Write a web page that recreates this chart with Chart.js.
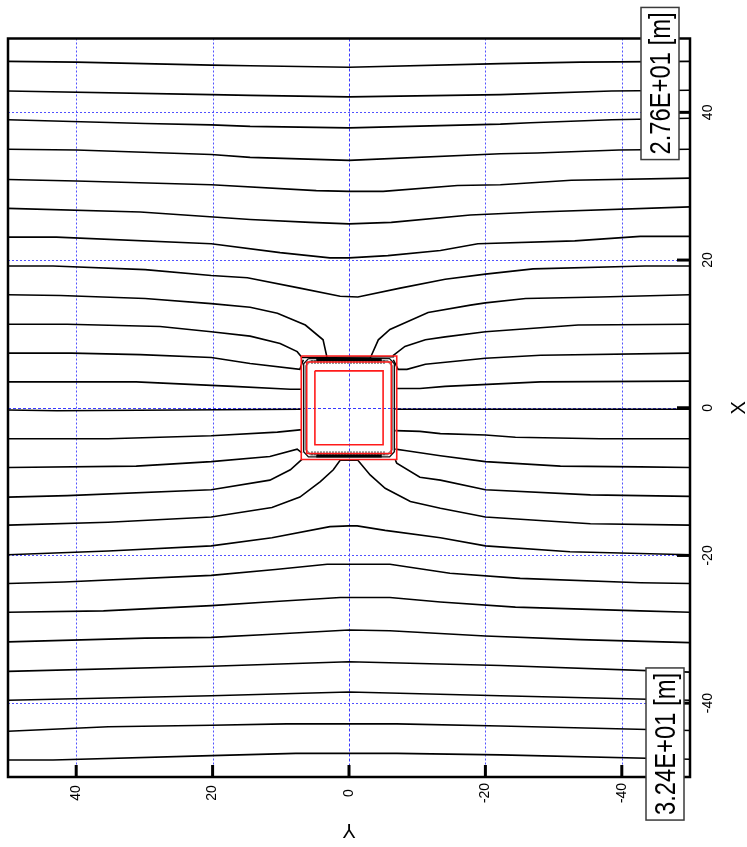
<!DOCTYPE html>
<html>
<head>
<meta charset="utf-8">
<script src="https://cdn.jsdelivr.net/npm/chart.js@4.4.1/dist/chart.umd.min.js"></script>
<style>
  html, body { margin: 0; padding: 0; background: #fff; }
  canvas { display: block; }
</style>
</head>
<body>
<canvas id="plot" width="747" height="847"></canvas>
<script>
// Axis ticks (Y runs along the bottom, X along the right side)
const yTicks = [40, 20, 0, -20, -40];
const xTicks = [40, 20, 0, -20, -40];
const topLabel = '2.76E+01 [m]';
const bottomLabel = '3.24E+01 [m]';

// Contour lines, each point as [Y, X]
const c01 = [[50,46.9],[40,46.8],[20.2,46.4],[14.5,46.3],[0,46.1],[-22.2,46.6],[-33.9,46.8],[-50,46.9]];
const c02 = [[50,42.9],[20.2,42.4],[14.5,42.3],[0,42.1],[-22.2,42.4],[-38.5,42.9],[-50,43.0]];
const c03 = [[50,39.0],[29.9,38.5],[20.2,38.3],[14.5,38.1],[0,37.9],[-22.2,38.4],[-26.6,38.6],[-38.5,39.0],[-50,39.2]];
const c04 = [[50,35.0],[40,34.9],[20.2,34.3],[14.5,33.9],[0,33.5],[-22.2,34.4],[-27.6,34.5],[-39.6,34.9],[-50,35.0]];
const c05 = [[50,30.9],[40,30.7],[20.2,30.2],[4.8,29.4],[0,29.3],[-5,29.3],[-15.9,30.1],[-22.2,30.2],[-32.6,30.8],[-50,31.1]];
const c06 = [[50,27.0],[30.6,26.5],[14.5,25.5],[5.7,25.1],[0,24.9],[-6.2,25.1],[-17.8,26.1],[-27.6,26.5],[-50,27.2]];
const c07 = [[50,23.1],[42.9,23.1],[20.2,22.2],[10.1,21.0],[2.8,20.3],[0,20.3],[-5.7,20.6],[-13.4,21.3],[-18.9,22.2],[-33.1,22.6],[-42.7,23.2],[-50,23.2]];
const c08 = [[50,19.2],[43.4,19.2],[29.9,18.7],[20.2,17.9],[14.9,17.6],[7.2,16.2],[1.3,15.1],[-1.3,15.0],[-7.5,16.2],[-14.1,17.4],[-20,18.1],[-27.0,18.8],[-43.4,19.2],[-50,19.2]];
const c09 = [[50,15.3],[42.3,15.2],[29.9,14.8],[20.2,14.1],[14.5,13.6],[10.5,12.8],[6.4,11.2],[3.8,9.2],[3.2,6.7],[-3.1,6.7],[-4.3,9.2],[-6.0,10.6],[-11.6,12.9],[-17.8,13.9],[-20,14.2],[-25.9,14.8],[-36.8,15.0],[-50,15.3]];
const c10 = [[50,11.3],[41.3,11.3],[27.7,11.0],[20.2,10.3],[14.5,9.7],[10.1,8.7],[7.6,7.6],[6.9,6.8],[-6.5,6.9],[-6.5,7.1],[-8.2,8.3],[-11.2,9.2],[-14.1,9.6],[-20,10.3],[-33.6,11.2],[-50,11.3]];
const c11 = [[50,7.4],[40.7,7.4],[30.6,7.2],[20.2,6.8],[14.5,6.0],[7.2,5.2],[6.7,6.5]];
const c11b = [[-6.5,6.5],[-7.2,5.2],[-8.5,5.2],[-11.2,5.9],[-14.5,6.2],[-20,6.7],[-28.1,7.1],[-50,7.4]];
const c12 = [[50,3.5],[31.2,3.5],[17.0,2.9],[8.6,2.5],[6.9,2.5]];
const c12b = [[-6.9,2.6],[-10.4,2.6],[-14.1,2.9],[-28.1,3.5],[-50,3.6]];
const c13 = [[50,-0.3],[42.8,-0.4],[7.2,-0.2],[6.9,-0.2]];
const c13b = [[-6.8,-0.2],[-50,-0.2]];
const c14 = [[50,-4.2],[35.3,-4.2],[20.2,-3.8],[10.5,-3.3],[7.2,-3.0],[6.9,-3.0]];
const c14b = [[-6.8,-3.1],[-10.4,-3.2],[-13.4,-3.5],[-20,-3.7],[-24.4,-4.0],[-36.8,-4.2],[-50,-4.2]];
const c15 = [[50,-8.1],[31.2,-7.9],[20.2,-7.3],[11.6,-6.6],[7.6,-5.6],[6.9,-6.1]];
const c15b = [[-6.8,-5.6],[-8.2,-5.8],[-13.4,-6.5],[-20,-7.3],[-31.0,-7.9],[-42.7,-8.0],[-50,-8.1]];
const c16 = [[50,-12.1],[41.3,-11.9],[20.2,-11.1],[11.6,-9.8],[8.6,-8.4],[6.9,-7.0]];
const c16b = [[-6.8,-7.1],[-7.0,-7.5],[-10.4,-9.4],[-13.4,-9.8],[-20,-11.1],[-35.4,-11.8],[-50,-12.0]];
const c17 = [[50,-15.9],[35.3,-15.5],[20.2,-14.8],[11.3,-13.5],[7.2,-12.1],[4.2,-10.0],[2.3,-8.4],[1.3,-7.1],[-1.3,-7.1],[-3.1,-9.1],[-5.3,-10.9],[-9.0,-12.7],[-13.4,-13.6],[-20,-14.8],[-35.4,-15.7],[-50,-15.9]];
const c18 = [[50,-19.9],[35.3,-19.4],[20.2,-18.7],[11.3,-17.6],[2.8,-16.1],[0,-16.0],[-1.2,-16.0],[-5.3,-16.6],[-13.4,-17.6],[-20,-18.7],[-32.4,-19.5],[-50,-19.9]];
const c19 = [[50,-23.8],[41.8,-23.6],[20.2,-22.7],[10.8,-21.9],[3.2,-21.2],[0,-21.2],[-6.0,-21.2],[-14.8,-22.4],[-25.1,-23.1],[-42.7,-23.7],[-50,-23.8]];
const c20 = [[50,-27.7],[36.0,-27.5],[20.2,-26.8],[12.0,-26.3],[1.3,-25.7],[-6.0,-25.7],[-13.4,-26.3],[-24.4,-27.0],[-42.7,-27.5],[-50,-27.7]];
const c21 = [[50,-31.7],[29.9,-31.2],[20.2,-31.1],[12.0,-30.7],[0,-30.1],[-6.0,-30.2],[-20,-30.9],[-33.9,-31.4],[-50,-31.8]];
const c22 = [[50,-35.7],[20.2,-35.0],[0,-34.4],[-22.2,-34.9],[-50,-35.8]];
const c23 = [[50,-39.6],[20.2,-39.0],[0,-38.5],[-22.2,-39.0],[-50,-39.6]];
const c24 = [[50,-43.8],[35.3,-43.2],[20.2,-43.0],[9.2,-42.8],[-7,-42.8],[-22.2,-43.1],[-50,-43.7]];
const c25 = [[50,-47.7],[43.4,-47.7],[20.2,-47.1],[7.8,-46.8],[-7,-46.8],[-22.2,-47.0],[-50,-47.6]];

const contourLines = [c01, c02, c03, c04, c05, c06, c07, c08, c09, c10, c11, c11b, c12, c12b,
  c13, c13b, c14, c14b, c15, c15b, c16, c16b, c17, c18, c19, c20, c21, c22, c23, c24, c25];

// Excavation pit outlines (half widths)
const pitOuter = 7.0;
const pitMiddle = 6.2;
const pitInner = 5.0;
const wallHalf = 6.65;
const wallChamfer = 0.7;

function toXY(pts) { return pts.map(p => ({ x: p[0], y: p[1] })); }
function square(h) { return [[h, h], [-h, h], [-h, -h], [h, -h], [h, h]]; }
function octagon(h, c) {
  const a = h - c;
  return [[a, h], [-a, h], [-h, a], [-h, -a], [-a, -h], [a, -h], [h, -a], [h, a], [a, h]];
}

function lineSet(pts, color, width, dash) {
  return {
    data: toXY(pts), showLine: true, borderColor: color, borderWidth: width,
    borderDash: dash || [], pointRadius: 0, tension: 0, fill: false
  };
}

const datasets = [
  lineSet(square(pitOuter), '#ff1a1a', 1.6),
  lineSet(square(pitMiddle), '#ff1a1a', 1.6),
  lineSet(square(pitInner), '#ff1a1a', 1.6),
  lineSet([[4.8, 6.55], [-4.8, 6.55]], '#000', 3),
  lineSet([[5.5, 6.2], [-5.5, 6.2]], '#222', 4, [1, 2]),
  lineSet([[4.8, -6.55], [-4.8, -6.55]], '#000', 3),
  lineSet([[5.5, -6.15], [-5.5, -6.15]], '#222', 4, [1, 2]),
  lineSet(octagon(wallHalf, wallChamfer), '#111', 1.4),
  lineSet(octagon(wallHalf - 0.3, wallChamfer), '#888', 1.6),
  ...contourLines.map(c => lineSet(c, '#000', 1.6))
];

const frame = {
  id: 'frame',
  beforeDatasetsDraw(chart) {
    const { ctx, chartArea: a, scales } = chart;
    ctx.save();
    ctx.beginPath();
    ctx.rect(a.left, a.top, a.right - a.left, a.bottom - a.top);
    ctx.clip();
    ctx.lineWidth = 1;
    const gridStyle = v => {
      ctx.strokeStyle = v === 0 ? '#3a3aff' : '#5252ff';
      ctx.setLineDash(v === 0 ? [3, 2] : [2, 2]);
    };
    yTicks.forEach(v => {
      const px = Math.round(scales.x.getPixelForValue(v)) + 0.5;
      gridStyle(v);
      ctx.beginPath(); ctx.moveTo(px, a.top); ctx.lineTo(px, a.bottom); ctx.stroke();
    });
    xTicks.forEach(v => {
      const py = Math.round(scales.y.getPixelForValue(v)) + 0.5;
      gridStyle(v);
      ctx.beginPath(); ctx.moveTo(a.left, py); ctx.lineTo(a.right, py); ctx.stroke();
    });
    ctx.restore();
  },
  afterDatasetsDraw(chart) {
    const { ctx, chartArea: a, scales } = chart;
    ctx.save();
    // plot border
    ctx.strokeStyle = '#000';
    ctx.lineWidth = 2.5;
    ctx.setLineDash([]);
    ctx.strokeRect(a.left, a.top, a.right - a.left, a.bottom - a.top);

    // major ticks, inward, on the bottom and right sides
    ctx.lineWidth = 3;
    yTicks.forEach(v => {
      const px = scales.x.getPixelForValue(v);
      ctx.beginPath(); ctx.moveTo(px, a.bottom); ctx.lineTo(px, a.bottom - 12); ctx.stroke();
    });
    xTicks.forEach(v => {
      const py = scales.y.getPixelForValue(v);
      ctx.beginPath(); ctx.moveTo(a.right, py); ctx.lineTo(a.right - 13, py); ctx.stroke();
    });

    // tick labels, rotated a quarter turn
    ctx.fillStyle = '#000';
    ctx.font = '14px "Liberation Sans", Arial, sans-serif';
    ctx.textAlign = 'center';
    ctx.textBaseline = 'middle';
    const rotText = (t, x, y, ang) => {
      ctx.save(); ctx.translate(x, y); ctx.rotate(ang); ctx.fillText(t, 0, 0); ctx.restore();
    };
    yTicks.forEach(v => rotText(String(v), scales.x.getPixelForValue(v), a.bottom + 16, -Math.PI / 2));
    xTicks.forEach(v => rotText(String(v), a.right + 18, scales.y.getPixelForValue(v), -Math.PI / 2));

    // axis titles
    ctx.font = '20px "Liberation Sans", Arial, sans-serif';
    rotText('X', a.right + 49, scales.y.getPixelForValue(0), -Math.PI / 2);
    rotText('Y', scales.x.getPixelForValue(0), a.bottom + 53, Math.PI);

    // contour value boxes
    const valueBox = (t, cx, cy) => {
      ctx.save();
      ctx.translate(cx, cy);
      ctx.rotate(-Math.PI / 2);
      ctx.font = '29px "Liberation Sans", Arial, sans-serif';
      const w = ctx.measureText(t).width * 0.82;
      const bw = w + 10, bh = 38;
      ctx.fillStyle = '#fff';
      ctx.fillRect(-bw / 2, -bh / 2, bw, bh);
      ctx.strokeStyle = '#3a3a3a';
      ctx.lineWidth = 1.5;
      ctx.strokeRect(-bw / 2, -bh / 2, bw, bh);
      ctx.scale(0.82, 1);
      ctx.fillStyle = '#000';
      ctx.textAlign = 'center';
      ctx.textBaseline = 'middle';
      ctx.fillText(t, 0, 2);
      ctx.restore();
    };
    valueBox(topLabel, a.right - 30, a.top + 45);
    valueBox(bottomLabel, a.right - 25, a.bottom - 33);
    ctx.restore();
  }
};

new Chart(document.getElementById('plot'), {
  type: 'scatter',
  data: { datasets },
  options: {
    responsive: false,
    animation: false,
    events: [],
    layout: { padding: { left: 8, right: 57, top: 38.5, bottom: 70 } },
    plugins: { legend: { display: false }, tooltip: { enabled: false } },
    scales: {
      x: { type: 'linear', min: -50, max: 50, reverse: true, display: false },
      y: { type: 'linear', min: -50, max: 50, display: false }
    }
  },
  plugins: [frame]
});
</script>
</body>
</html>
